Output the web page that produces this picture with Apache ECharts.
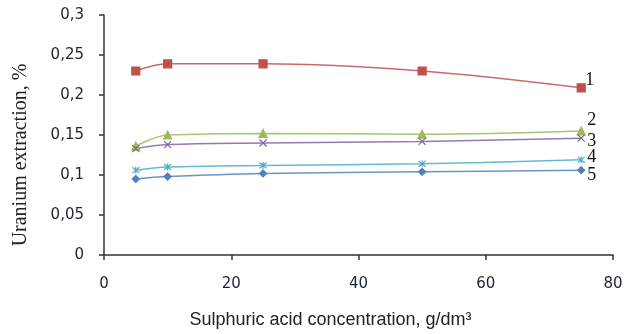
<!DOCTYPE html>
<html>
<head>
<meta charset="utf-8">
<script src="https://cdn.jsdelivr.net/npm/echarts@6/dist/echarts.min.js"></script>
<style>
  html, body { margin: 0; padding: 0; background: #fff; }
  #chart { width: 631px; height: 334px; }
</style>
</head>
<body>
<div id="chart"></div>
<script>
// acid concentration, g/dm3
const concentration = [5, 10, 25, 50, 75];

// uranium extraction, %, curves 1..5
const curve1 = [0.230, 0.239, 0.239, 0.230, 0.209];
const curve2 = [0.136, 0.150, 0.152, 0.151, 0.155];
const curve3 = [0.133, 0.138, 0.140, 0.142, 0.146];
const curve4 = [0.106, 0.110, 0.112, 0.114, 0.119];
const curve5 = [0.095, 0.098, 0.102, 0.104, 0.106];

const curveNames = ['1', '2', '3', '4', '5'];

const chart = echarts.init(document.getElementById('chart'));

const pairs = (ys) => concentration.map((x, i) => [x, ys[i]]);

function makeSeries(name, ys, color, symbol, size, labelOffset) {
    return {
        name: name,
        type: 'line',
        data: pairs(ys),
        smooth: 0.35,
        symbol: symbol,
        symbolSize: size,
        lineStyle: { color: color, width: 1.5, opacity: 0.85 },
        itemStyle: { color: color, borderColor: color, borderWidth: 1.2 },
        endLabel: {
            show: true,
            formatter: name,
            distance: 4,
            offset: labelOffset,
            fontFamily: 'Liberation Serif',
            fontSize: 18,
            color: '#111'
        },
        z: 3
    };
}

const xMark = 'path://M0,0L10,10M10,0L0,10';
const starMark = 'path://M0,0L10,10M10,0L0,10M5,-1L5,11';

chart.setOption({
    animation: false,
    grid: { left: 104, right: 18, top: 15, bottom: 79 },
    xAxis: {
        type: 'value',
        min: 0,
        max: 80,
        interval: 20,
        name: 'Sulphuric acid concentration, g/dm³',
        nameLocation: 'middle',
        nameGap: 56,
        nameTextStyle: {
            fontFamily: 'Liberation Sans',
            fontSize: 18,
            color: '#222',
            padding: [0, 56, 0, 0]
        },
        axisLine: { lineStyle: { color: '#333', width: 1.5 } },
        axisTick: { show: true, length: 5, lineStyle: { color: '#333', width: 1.5 } },
        axisLabel: { margin: 22, fontFamily: 'DejaVu Sans', fontSize: 15, color: '#1c2533' },
        splitLine: { show: false }
    },
    yAxis: {
        type: 'value',
        min: 0,
        max: 0.3,
        interval: 0.05,
        name: 'Uranium extraction, %',
        nameLocation: 'middle',
        nameGap: 73,
        nameTextStyle: {
            fontFamily: 'Liberation Serif',
            fontSize: 20,
            color: '#222',
            padding: [0, 40, 0, 0]
        },
        axisLine: { show: true, lineStyle: { color: '#333', width: 1.5 } },
        axisTick: { show: true, length: 5, lineStyle: { color: '#333', width: 1.5 } },
        axisLabel: {
            margin: 20,
            fontFamily: 'DejaVu Sans',
            fontSize: 15,
            color: '#1c2533',
            formatter: (v) => String(+v.toFixed(2)).replace('.', ',')
        },
        splitLine: { show: false }
    },
    series: [
        makeSeries(curveNames[0], curve1, '#C0504D', 'rect', 8, [0, -8]),
        makeSeries(curveNames[1], curve2, '#9BBB59', 'triangle', 8, [2, -11]),
        makeSeries(curveNames[2], curve3, '#8064A2', xMark, 7, [2, 3]),
        makeSeries(curveNames[3], curve4, '#4BACC6', starMark, 7, [2, -3]),
        makeSeries(curveNames[4], curve5, '#4F81BD', 'diamond', 7, [2, 5])
    ]
});
</script>
</body>
</html>
